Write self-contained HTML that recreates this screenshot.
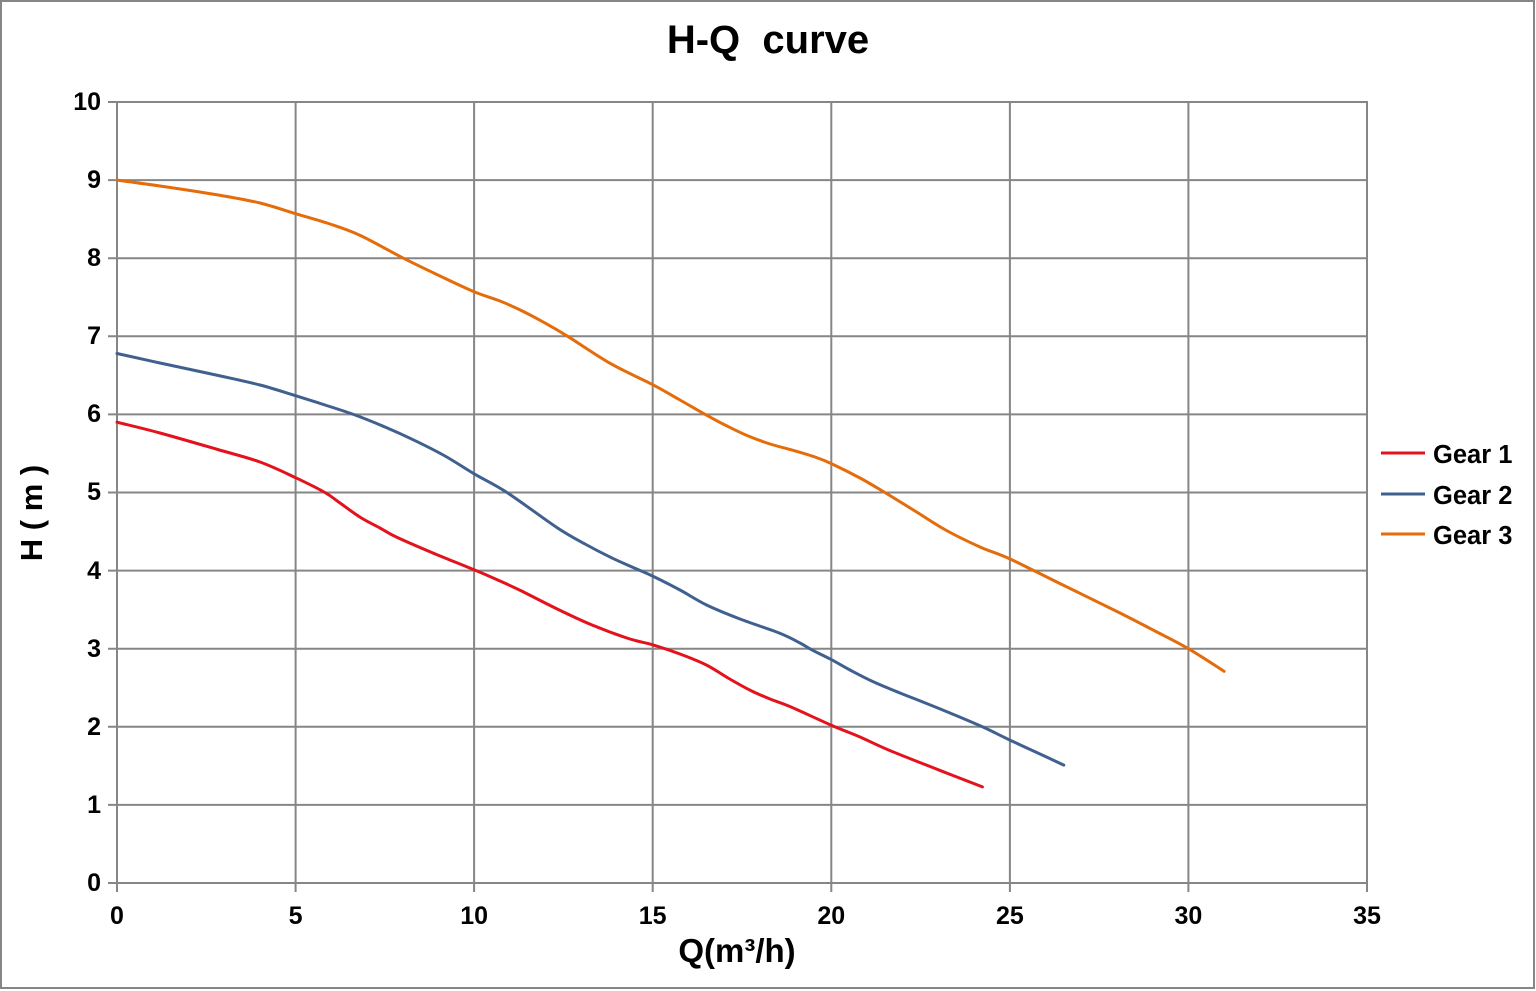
<!DOCTYPE html>
<html>
<head>
<meta charset="utf-8">
<style>
  html, body { margin:0; padding:0; background:#fff; }
  svg { display:block; }
  text { font-family: "Liberation Sans", "DejaVu Sans", sans-serif; font-weight:bold; fill:#000; }
</style>
</head>
<body>
<svg width="1536" height="991" viewBox="0 0 1536 991" xmlns="http://www.w3.org/2000/svg">
  <rect x="0" y="0" width="1536" height="991" fill="#fff"/>
  <rect x="1" y="1" width="1533" height="987" fill="none" stroke="#868686" stroke-width="2"/>

  <text x="768" y="53" font-size="40" text-anchor="middle" xml:space="preserve">H-Q&#160; curve</text>

  <g stroke="#868686" stroke-width="2">
    <line x1="108" y1="102" x2="1368" y2="102"/>
    <line x1="108" y1="180.1" x2="1368" y2="180.1"/>
    <line x1="108" y1="258.2" x2="1368" y2="258.2"/>
    <line x1="108" y1="336.3" x2="1368" y2="336.3"/>
    <line x1="108" y1="414.4" x2="1368" y2="414.4"/>
    <line x1="108" y1="492.5" x2="1368" y2="492.5"/>
    <line x1="108" y1="570.6" x2="1368" y2="570.6"/>
    <line x1="108" y1="648.7" x2="1368" y2="648.7"/>
    <line x1="108" y1="726.8" x2="1368" y2="726.8"/>
    <line x1="108" y1="804.9" x2="1368" y2="804.9"/>
    <line x1="108" y1="883" x2="1368" y2="883"/>
    <line x1="117" y1="102" x2="117" y2="892"/>
    <line x1="295.6" y1="102" x2="295.6" y2="892"/>
    <line x1="474.1" y1="102" x2="474.1" y2="892"/>
    <line x1="652.7" y1="102" x2="652.7" y2="892"/>
    <line x1="831.3" y1="102" x2="831.3" y2="892"/>
    <line x1="1009.9" y1="102" x2="1009.9" y2="892"/>
    <line x1="1188.4" y1="102" x2="1188.4" y2="892"/>
    <line x1="1367" y1="102" x2="1367" y2="892"/>
  </g>

  <g font-size="25" text-anchor="end">
    <text x="101" y="110">10</text>
    <text x="101" y="188">9</text>
    <text x="101" y="266">8</text>
    <text x="101" y="344">7</text>
    <text x="101" y="422">6</text>
    <text x="101" y="500">5</text>
    <text x="101" y="579">4</text>
    <text x="101" y="657">3</text>
    <text x="101" y="735">2</text>
    <text x="101" y="813">1</text>
    <text x="101" y="891">0</text>
  </g>

  <g font-size="25" text-anchor="middle">
    <text x="117" y="924">0</text>
    <text x="295.6" y="924">5</text>
    <text x="474.1" y="924">10</text>
    <text x="652.7" y="924">15</text>
    <text x="831.3" y="924">20</text>
    <text x="1009.9" y="924">25</text>
    <text x="1188.4" y="924">30</text>
    <text x="1367" y="924">35</text>
  </g>

  <text x="737" y="962" font-size="33" text-anchor="middle">Q(m³/h)</text>
  <text transform="translate(42,513) rotate(-90)" font-size="31" text-anchor="middle">H ( m )</text>

  <g fill="none" stroke-width="3" stroke-linejoin="round" stroke-linecap="round">
    <polyline class="smooth" stroke="#E46C0A" points="117,180.1 160,186 217.7,194.9 260,203 295.6,213.7 330,224 360.6,235.6 403.4,258.2 440,276 474.1,291.8 500,301 521.3,310.5 545,323 567.7,336.3 610.6,363.6 652.7,384.7 680,400 705.2,414.4 727,426 747,435.5 770,444 793.1,450.3 815,457 831.3,463.6 860,478 884.9,492.5 915,511 945.6,530 980,547 1009.9,558.9 1060.6,583.9 1118,612 1155,631 1188.4,648.7 1224.1,671.3"/>
    <polyline class="smooth" stroke="#40618F" points="117,353.5 160,363 217.7,375.4 260,385 295.6,395.7 325,405 353.4,414.4 385,427 414.1,440.2 445,456 474.1,473.8 507,492.5 557,527.6 585,544 610.6,557.3 632,567 652.7,576.1 680,590 706.6,605 740,619 779.5,633.1 800,643 812.7,650.3 831.3,659.6 850,670 872.7,681.5 900,693 922.4,701.8 950,713 982.4,726.8 1009.9,740.1 1040,754 1063.8,765.1"/>
    <polyline class="smooth" stroke="#E3121C" points="117,422.2 160,433 217.7,449.5 260,462 295.6,477.7 324.9,492.5 340,503 360.6,517.5 380,528 396.3,537 432,552.6 474.1,569.8 500,581 521.3,590.9 557,608.9 592.7,625.3 628.4,638.5 652.7,644.8 680,654 706.6,665.1 728,678 749.9,690.1 770,699 789.9,706.5 831.3,725.2 860,737 889.1,750.2 938.4,769.8 982.4,786.9"/>
  </g>

  <g stroke-width="3">
    <line x1="1381" y1="453" x2="1425" y2="453" stroke="#E3121C"/>
    <line x1="1381" y1="494" x2="1425" y2="494" stroke="#40618F"/>
    <line x1="1381" y1="534" x2="1425" y2="534" stroke="#E46C0A"/>
  </g>
  <g font-size="25.5">
    <text x="1433" y="463">Gear 1</text>
    <text x="1433" y="504">Gear 2</text>
    <text x="1433" y="544">Gear 3</text>
  </g>
</svg>
<script>
(function(){
  var NS = "http://www.w3.org/2000/svg";
  var pls = document.querySelectorAll("polyline.smooth");
  for (var i = 0; i < pls.length; i++) {
    var pl = pls[i];
    var pts = pl.getAttribute("points").trim().split(/\s+/).map(function(s){var a=s.split(",");return [parseFloat(a[0]),parseFloat(a[1])];});
    var d = "M" + pts[0][0] + "," + pts[0][1];
    for (var j = 0; j < pts.length - 1; j++) {
      var p0 = pts[j-1] || pts[j], p1 = pts[j], p2 = pts[j+1], p3 = pts[j+2] || pts[j+1];
      var c1x = p1[0] + (p2[0]-p0[0])/6, c1y = p1[1] + (p2[1]-p0[1])/6;
      var c2x = p2[0] - (p3[0]-p1[0])/6, c2y = p2[1] - (p3[1]-p1[1])/6;
      d += " C" + c1x.toFixed(2) + "," + c1y.toFixed(2) + " " + c2x.toFixed(2) + "," + c2y.toFixed(2) + " " + p2[0] + "," + p2[1];
    }
    var path = document.createElementNS(NS, "path");
    path.setAttribute("d", d);
    path.setAttribute("stroke", pl.getAttribute("stroke"));
    pl.parentNode.replaceChild(path, pl);
  }
})();
</script>
</body>
</html>
